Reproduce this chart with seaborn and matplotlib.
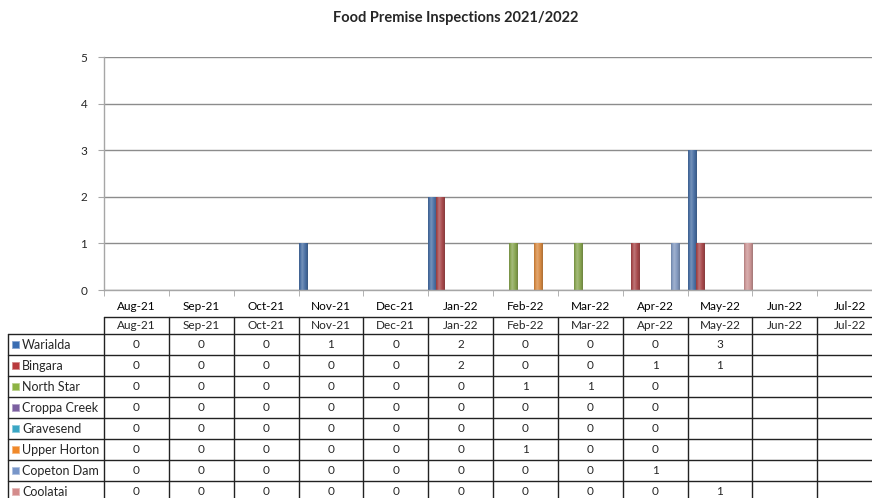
"""Food Premise Inspections 2021/2022 - Excel style clustered column chart with a data table."""
import matplotlib.pyplot as plt
import matplotlib.colors as mcolors
import matplotlib.transforms as mtransforms
import numpy as np
import pandas as pd
import seaborn as sns

months = ['Aug-21', 'Sep-21', 'Oct-21', 'Nov-21', 'Dec-21', 'Jan-22',
          'Feb-22', 'Mar-22', 'Apr-22', 'May-22', 'Jun-22', 'Jul-22']
sites = ['Warialda', 'Bingara', 'North Star', 'Croppa Creek',
         'Gravesend', 'Upper Horton', 'Copeton Dam', 'Coolatai']

# None = blank cell in the data table
warialda = [0, 0, 0, 1, 0, 2, 0, 0, 0, 3, None, None]
bingara = [0, 0, 0, 0, 0, 2, 0, 0, 1, 1, None, None]
north_star = [0, 0, 0, 0, 0, 0, 1, 1, 0, None, None, None]
croppa_creek = [0, 0, 0, 0, 0, 0, 0, 0, 0, None, None, None]
gravesend = [0, 0, 0, 0, 0, 0, 0, 0, 0, None, None, None]
upper_horton = [0, 0, 0, 0, 0, 0, 1, 0, 0, None, None, None]
copeton_dam = [0, 0, 0, 0, 0, 0, 0, 0, 1, None, None, None]
coolatai = [0, 0, 0, 0, 0, 0, 0, 0, 0, 1, None, None]

series = [warialda, bingara, north_star, croppa_creek,
          gravesend, upper_horton, copeton_dam, coolatai]
colors = ['#3a6db2', '#b83a3d', '#8db343', '#7b5fa0',
          '#3aa6c4', '#f0892a', '#7896c9', '#d48c8c']

W, H = 872, 498


def fy(px):
    # pixel row measured from the top -> figure fraction
    return 1 - px / H


def shade(color, t):
    rgb = np.array(mcolors.to_rgb(color))
    if t >= 0:
        return rgb + (1 - rgb) * t
    return rgb * (1 + t)


def run():
    rows = []
    for site, vals in zip(sites, series):
        for m, v in zip(months, vals):
            if v is not None:
                rows.append({'Month': m, 'Site': site, 'Count': v})
    df = pd.DataFrame(rows)

    sns.set_style('white')
    plt.rcParams['font.family'] = ['Lato', 'DejaVu Sans']

    fig = plt.figure(figsize=(W / 100, H / 100), dpi=100)
    ax = fig.add_axes([104 / W, fy(290), 778 / W, (290 - 57) / H])

    sns.barplot(data=df, x='Month', y='Count', hue='Site', order=months,
                hue_order=sites, palette=colors, width=1, gap=0,
                errorbar=None, legend=False, linewidth=0, ax=ax)

    # cylinder-like horizontal gradient on each bar
    for p in list(ax.patches):
        h = p.get_height()
        if not h or h <= 0:
            continue
        x0, w = p.get_x(), p.get_width()
        base = p.get_facecolor()
        pos = np.linspace(0, 1, 40)
        prof = np.where(pos < 0.35, -0.15 + 0.4 * pos / 0.35,
                        0.25 - 0.45 * (pos - 0.35) / 0.65)
        grad = np.array([np.clip(shade(base, t), 0, 1) for t in prof])[None, :, :]
        im = ax.imshow(grad, extent=[x0, x0 + w, 0, h], aspect='auto',
                       zorder=p.get_zorder() + 0.1, interpolation='bilinear')
        im.set_clip_path(p)

    ax.set_xlim(-0.5, 11.5)
    ax.set_ylim(0, 5)
    ax.set_yticks(range(6))
    ax.set_xticks(range(12))
    ax.set_xticks(np.arange(-0.5, 12, 1), minor=True)
    ax.set_xticklabels(months)
    ax.set_xlabel('')
    ax.set_ylabel('')
    ax.grid(axis='y', color='#8c8c8c', linewidth=1)
    ax.set_axisbelow(True)
    for s in ['top', 'right']:
        ax.spines[s].set_visible(False)
    for s in ['left', 'bottom']:
        ax.spines[s].set_color('#a6a6a6')
        ax.spines[s].set_linewidth(1)
    ax.tick_params(axis='x', which='major', length=0, pad=8, labelsize=8.5, colors='#000000')
    ax.tick_params(axis='x', which='minor', length=4, color='#a6a6a6', direction='out', bottom=True)
    ax.tick_params(axis='y', length=4, color='#a6a6a6', direction='out', pad=8, labelsize=8.5, left=True)

    fig.text(456 / W, fy(18), 'Food Premise Inspections 2021/2022', ha='center',
             va='center', fontsize=10.5, fontweight='bold')

    # data table under the plot
    tr = mtransforms.blended_transform_factory(ax.transData, fig.transFigure)
    line_kw = dict(color='#222222', linewidth=1, clip_on=False)
    head_top, head_bot, row_h = 317, 334, 21
    bottom = head_bot + row_h * len(sites)
    ax.plot([-0.5, 11.5], [fy(head_top)] * 2, transform=tr, **line_kw)
    for k in range(len(sites) + 1):
        yy = fy(head_bot + k * row_h)
        fig.add_artist(plt.Line2D([8 / W, 1.01], [yy, yy], **line_kw))
    for xb in np.arange(-0.5, 12, 1):
        ax.plot([xb, xb], [fy(head_top), fy(bottom)], transform=tr, **line_kw)
    fig.add_artist(plt.Line2D([8 / W, 8 / W], [fy(head_bot), fy(bottom)], **line_kw))

    for i, m in enumerate(months):
        ax.text(i, fy((head_top + head_bot) / 2), m, transform=tr, ha='center',
                va='center', fontsize=8.5)
    for k, (site, vals, c) in enumerate(zip(sites, series, colors)):
        yc = head_bot + k * row_h + row_h / 2
        fig.add_artist(plt.Rectangle((12 / W, fy(yc + 3.5)), 7 / W, 7 / H,
                                     facecolor=c, edgecolor=shade(c, 0.4), linewidth=0.6))
        fig.text(22 / W, fy(yc), site, ha='left', va='center', fontsize=9)
        for i, v in enumerate(vals):
            if v is not None:
                ax.text(i, fy(yc), str(v), transform=tr, ha='center', va='center', fontsize=8.5)

    fig.savefig('out.png', dpi=100)


if __name__ == '__main__':
    run()
